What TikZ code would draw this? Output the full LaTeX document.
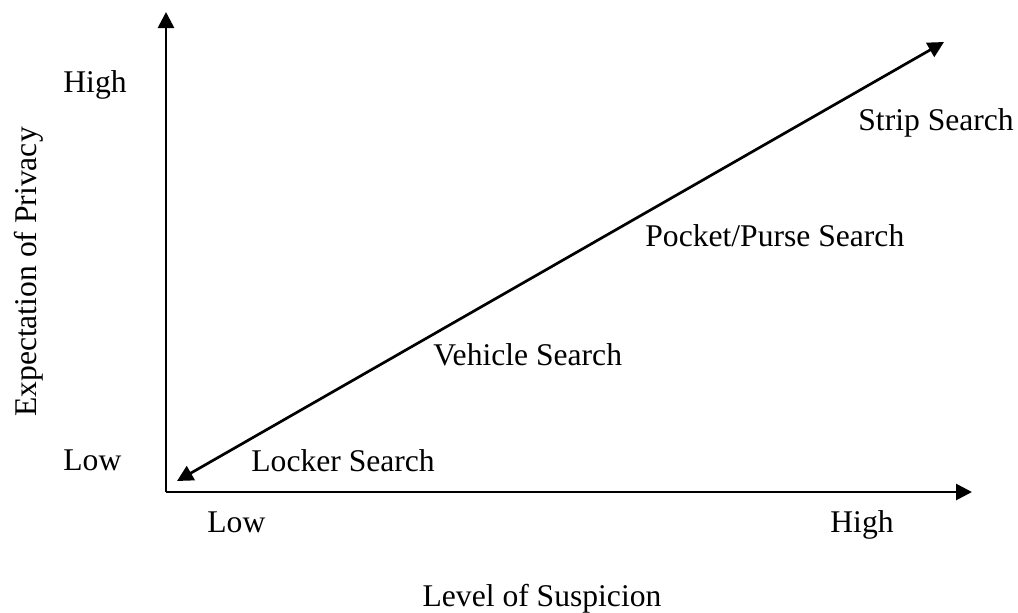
\documentclass[tikz,border=0pt]{standalone}
\usepackage{fontspec}
\setmainfont{Liberation Serif}
\usetikzlibrary{arrows.meta}
\begin{document}
\begin{tikzpicture}[x=0.5pt,y=-0.5pt,
  tip/.tip={Triangle[length=8pt,width=8pt]},
  ax/.style={line width=1.35pt,-tip},
  lbl/.style={font=\fontsize{15.8pt}{18pt}\selectfont,inner sep=0pt,anchor=base west}]
\useasboundingbox (0,0) rectangle (1018,612);
\coordinate (O) at (166,492);
\coordinate (Ytop) at (166,12);
\coordinate (Xend) at (972,492);
\coordinate (Dlow) at (177,481);
\coordinate (Dhigh) at (944,42);
\draw[ax] (O) -- (Ytop);
\draw[ax] (O) -- (Xend);
\draw[line width=1.35pt,tip-tip] (Dlow) -- (Dhigh);
\node[lbl] (yh) at (63,92) {High};
\node[lbl] (yl) at (63,470) {Low};
\node[lbl] (xl) at (207,532) {Low};
\node[lbl] (xh) at (830,532) {High};
\node[lbl,anchor=base] (xt) at (542,606) {Level of Suspicion};
\node[lbl,anchor=base,rotate=90] (yt) at (36,272) {Expectation of Privacy};
\node[lbl] (s1) at (858,130) {Strip Search};
\node[lbl] (s2) at (645,246) {Pocket/Purse Search};
\node[lbl] (s3) at (433,365) {Vehicle Search};
\node[lbl] (s4) at (251,471) {Locker Search};
\end{tikzpicture}
\end{document}
